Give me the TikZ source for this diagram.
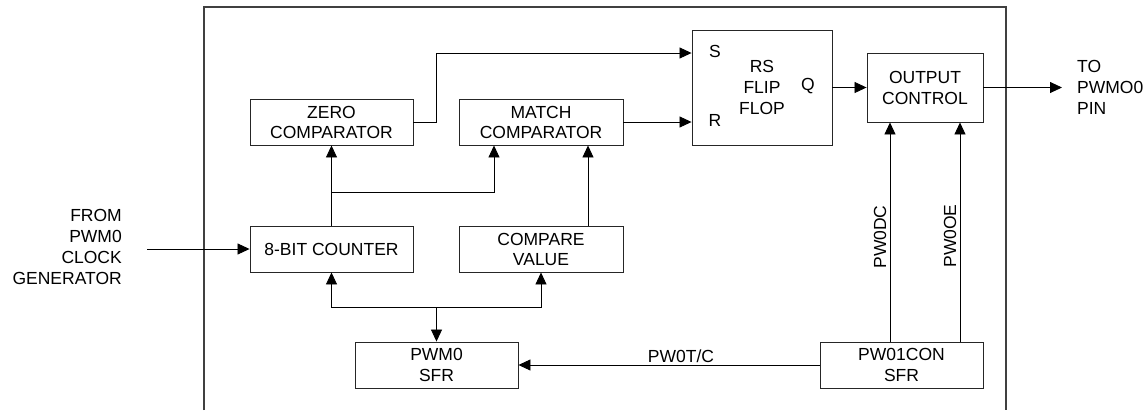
\documentclass[tikz,border=0pt]{standalone}
\usepackage{fontspec}
\setmainfont{Liberation Sans}
\usetikzlibrary{arrows.meta,calc}
\begin{document}
\begin{tikzpicture}[x=1pt,y=-1pt,
  blk/.style={draw=black!85, line width=0.9pt, inner sep=0pt, align=center,
              font=\fontsize{17.5}{20}\selectfont},
  lbl/.style={inner sep=0pt, font=\fontsize{17.5}{21}\selectfont},
  arr/.style={draw=black, line width=0.85pt, -{Triangle[length=12pt,width=11pt]}},
  frame/.style={draw=black!75, line width=1.6pt}]
\useasboundingbox (0,0) rectangle (1144,410);

% enclosing frame, open at the bottom
\draw[frame] (204,410) -- (204,7) -- (1006,7) -- (1006,410);

% blocks
\node[blk, minimum width=163pt, minimum height=46pt] (zero)  at (331.5,122) {ZERO\\COMPARATOR};
\node[blk, minimum width=164pt, minimum height=46pt] (match) at (541,122)   {MATCH\\COMPARATOR};
\node[blk, minimum width=140pt, minimum height=115pt, font=\fontsize{17.5}{21}\selectfont] (ff) at (762,87.5) {RS\\FLIP\\FLOP};
\node[blk, minimum width=116pt, minimum height=69pt, font=\fontsize{17.5}{21}\selectfont] (out) at (925,87.5) {OUTPUT\\CONTROL};
\node[blk, minimum width=163pt, minimum height=46pt] (cnt)   at (331.5,249) {8-BIT COUNTER};
\node[blk, minimum width=164pt, minimum height=46pt] (cmp)   at (541,249)   {COMPARE\\VALUE};
\node[blk, minimum width=163pt, minimum height=46pt, font=\fontsize{17.5}{21}\selectfont] (pwm) at (436.5,365) {PWM0\\SFR};
\node[blk, minimum width=163pt, minimum height=46pt, font=\fontsize{17.5}{21}\selectfont] (con) at (901.5,365) {PW01CON\\SFR};

% flip-flop pin letters
\node[lbl] (sl) at (715,51)  {S};
\node[lbl] (rl) at (715,120) {R};
\node[lbl] (ql) at (808,86)  {Q};

% external labels
\node[lbl, align=right, anchor=east] (from) at (122,247) {FROM\\PWM0\\CLOCK\\GENERATOR};
\node[lbl, align=left, anchor=west] (to) at (1077,87) {TO\\PWMO0\\PIN};

% helper points
\coordinate (clk) at (147,249);
\coordinate (pin) at (1062,87.5);
\coordinate (sin) at ($(ff.west)+(0,-34.5)$);
\coordinate (j1)  at (331.5,192);
\coordinate (mIn) at ([xshift=-47pt]match.south);
\coordinate (cOut) at ([xshift=47pt]cmp.north);
\coordinate (mIn2) at ([xshift=47pt]match.south);
\coordinate (dc) at ([xshift=-35pt]out.south);
\coordinate (oe) at ([xshift=35pt]out.south);
\coordinate (bus) at (436.5,307);

% connectors
\draw[arr] (clk) -- (cnt.west);
\draw[arr] (cnt.north) -- (zero.south);
\draw[arr] (j1) -| (mIn);
\draw[arr] (cOut) -- (mIn2);
\draw[arr] (zero.east) -- ++(23,0) |- (sin);
\draw[arr] (match.east) -- (match.east -| ff.west);
\draw[arr] (ff.east) -- (out.west);
\draw[arr] (out.east) -- (pin);
\draw[arr] (dc |- con.north) -- (dc);
\draw[arr] (oe |- con.north) -- (oe);
\draw[arr] (con.west) -- (pwm.east);
\draw[arr] (bus) -- (pwm.north);
\draw[arr] (bus) -| (cnt.south);
\draw[arr] (bus) -| (cmp.south);

% signal names
\node[lbl, rotate=90, anchor=base] (dcl) at (886,237) {PW0DC};
\node[lbl, rotate=90, anchor=base] (oel) at (956,236) {PW0OE};
\node[lbl, anchor=base] (tcl) at (681,362) {PW0T/C};
\end{tikzpicture}
\end{document}
